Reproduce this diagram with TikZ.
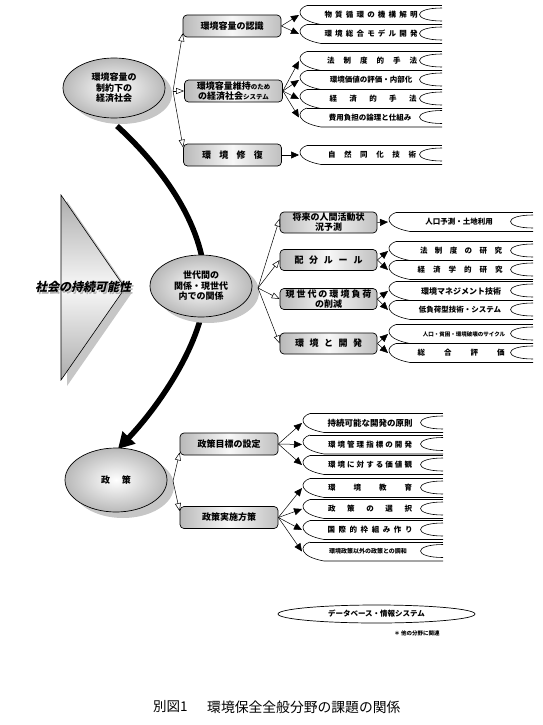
\documentclass[tikz,border=0pt]{standalone}
\usepackage{fontspec}
\newfontfamily\jp{Noto Sans CJK JP}
\newfontfamily\jpsl[FakeSlant=0.22]{Noto Sans CJK JP}
\usetikzlibrary{arrows.meta,shapes.geometric,calc,shadows}
\newcommand\spr[2]{\makebox[#1pt][s]{#2}}
\newcommand\fs[1]{\fontsize{#1}{#1}\selectfont}
\tikzset{
  oval/.style={ellipse, draw=black, line width=0.7pt, inner sep=0pt, shading=radial,
    inner color=white, outer color=gray!55, align=center,
    drop shadow={shadow xshift=7pt, shadow yshift=-6pt, fill=gray!45, opacity=1},
    font=\jp\bfseries\fontsize{9}{10.5}\selectfont},
  tbox/.style={draw=black, line width=0.7pt, rounded corners=4pt, left color=gray!55,
    right color=gray!50, middle color=gray!6, minimum width=98pt, minimum height=22pt,
    inner sep=1pt, align=center, font=\jp\bfseries\fontsize{9}{10}\selectfont},
  ribtext/.style={inner sep=0pt, font=\jp\bfseries\fs{7.5}},
  ribline/.style={line width=0.6pt},
  openarr/.style={line width=0.5pt, -{Triangle[open,length=8pt,width=6pt]}},
  fillarr/.style={line width=0.5pt, -{Triangle[length=8pt,width=7pt]}},
  bigarc/.style={line width=5.5pt, -{Triangle[length=16pt,width=17pt]}},
}
\newcommand\rib[6]{%
  \coordinate (#1) at (#2,#4);
  \draw[ribline] ({#2+8},{#4-9.5}) -- (#3,{#4-9.5});
  \draw[ribline] ({#2+8},{#4-9.5}) .. controls ({#2-3},{#4-6}) and ({#2-3},{#4+5}) .. ({#2+22},{#4+9.5}) -- (#3,{#4+9.5});
  \draw[ribline] (#3,{#4-7}) .. controls ({#3-30},{#4-7}) and ({#3-30},{#4+6}) .. (#3,{#4+6});
  \node[ribtext] (#1t) at (#5,#4) {#6};
}
\begin{document}
\begin{tikzpicture}[x=1pt,y=-1pt]
\useasboundingbox (0,0) rectangle (543,725);

% big triangle: sustainability of society
\fill[gray!45] (67,201) -- (131,294) -- (67,386) -- cycle;
\path[draw=black, line width=0.6pt, top color=gray!65, bottom color=gray!65, middle color=gray!6]
  (61,195) -- (125,288) -- (61,380) -- cycle;
\node[font=\jpsl\bfseries\fs{12}] (slogan) at (83,288)
  {\makebox[0pt][l]{\hspace{1.8pt}\raisebox{-1.8pt}{\color{gray!60}社会の持続可能性}}社会の持続可能性};

% thick arc
\coordinate (arcS) at (117,126);
\coordinate (arcM) at (205,290);
\coordinate (arcE) at (118,449);
\draw[bigarc] (arcS) .. controls (165,170) and (207,230) .. (arcM)
  .. controls (204,340) and (160,405) .. (arcE);

% ellipses
\node[oval, minimum width=102pt, minimum height=60pt] (e1) at (114,88) {環境容量の\\制約下の\\経済社会};
\node[oval, minimum width=102pt, minimum height=62pt] (e2) at (201,286) {世代間の\\関係・現世代\\内での関係};
\node[oval, minimum width=102pt, minimum height=64pt] (e3) at (116,480) {\spr{30}{政 策}};

% boxes top
\node[tbox] (box1) at (232,26) {環境容量の認識};
\node[tbox] (box2) at (233.5,91) {環境容量維持{\fs{6.5}のため}\\の経済社会{\fs{6.5}システム}};
\node[tbox] (box3) at (232.5,155) {\spr{61}{環 境 修 復}};
% boxes middle
\node[tbox, minimum width=97pt, minimum height=21pt] (m1) at (328.5,222.5) {将来の人間活動状\\況予測};
\node[tbox, minimum width=97pt, minimum height=21pt] (m2) at (328.5,260) {\spr{68}{配 分 ル ー ル}};
\node[tbox, minimum width=97pt, minimum height=21pt] (m3) at (328.5,299) {\spr{86}{現 世 代 の 環 境 負 荷}\\の削減};
\node[tbox, minimum width=97pt, minimum height=21pt] (m4) at (328.5,343.5) {\spr{67}{環 境 と 開 発}};
% boxes bottom
\node[tbox] (p1) at (229,444) {政策目標の設定};
\node[tbox] (p2) at (229,517.5) {政策実施方策};

% ribbons top
\rib{a1}{299}{442}{15}{371}{\spr{93}{物 質 循 環 の 機 構 解 明}}
\rib{a2}{299}{442}{34}{371}{\spr{93}{環 境 総 合 モ デ ル 開 発}}
\rib{b1}{299}{442}{61}{372}{\spr{90}{法 制 度 的 手 法}}
\rib{b2}{299}{442}{80}{371}{環境価値の評価・内部化}
\rib{b3}{299}{442}{99}{373}{\spr{87}{経 済 的 手 法}}
\rib{b4}{299}{442}{117.5}{370}{費用負担の論理と仕組み}
\rib{c1}{299}{442}{155}{372}{\spr{88}{自 然 同 化 技 術}}
% ribbons middle
\rib{n1}{388}{533}{222}{459}{人口予測・土地利用}
\rib{n2}{388}{533}{251}{461}{\spr{82}{法 制 度 の 研 究}}
\rib{n3}{388}{533}{270}{460}{\spr{85}{経 済 学 的 研 究}}
\rib{n4}{388}{533}{291}{461}{{\fs{8}環境マネジメント技術}}
\rib{n5}{388}{533}{310}{460}{低負荷型技術・システム}
\rib{n6}{388}{533}{334}{464}{{\fs{5.5}人口・貧困・環境破壊のサイクル}}
\rib{n7}{388}{533}{353}{461}{\spr{87}{総 合 評 価}}
% ribbons bottom
\rib{q1}{302}{443}{423}{370}{{\fs{8.5}持続可能な開発の原則}}
\rib{q2}{302}{443}{444.5}{370}{\spr{84}{環 境 管 理 指 標 の 開 発}}
\rib{q3}{302}{443}{465}{370}{\spr{84}{環 境 に 対 す る 価 値 観}}
\rib{q4}{302}{443}{488}{370}{\spr{84}{環 境 教 育}}
\rib{q5}{302}{443}{509}{370}{\spr{84}{政 策 の 選 択}}
\rib{q6}{302}{443}{530}{370}{\spr{85}{国 際 的 枠 組 み 作 り}}
\rib{q7}{302}{443}{551.5}{368}{{\fs{6}環境政策以外の政策との調和}}

% connectors ellipse -> boxes
\coordinate (f1) at (173,91);
\draw[openarr] (f1) -- ($(box1.south west)+(0,-4)$);
\draw[openarr] (f1) -- (box2.west);
\draw[openarr] (f1) -- ($(box3.north west)+(0,4)$);
\coordinate (f2) at (258,288);
\draw[openarr] (f2) -- ($(m1.west)+(0,-4)$);
\draw[openarr] (f2) -- (m2.west);
\draw[openarr] (f2) -- (m3.west);
\draw[openarr] (f2) -- (m4.west);
\coordinate (f3) at (173,481);
\draw[openarr] (f3) -- ($(p1.south west)+(0,-3)$);
\draw[openarr] (f3) -- ($(p2.north west)+(0,5)$);

% connectors boxes -> ribbons
\foreach \t in {a1,a2} \draw[fillarr] (box1.east) -- (\t);
\foreach \t in {b1,b2,b3,b4} \draw[fillarr] (box2.east) -- (\t);
\draw[fillarr] (box3.east) -- (c1);
\draw[fillarr] (m1.east) -- (n1);
\foreach \t in {n2,n3} \draw[fillarr] (m2.east) -- (\t);
\foreach \t in {n4,n5} \draw[fillarr] (m3.east) -- (\t);
\foreach \t in {n6,n7} \draw[fillarr] (m4.east) -- (\t);
\foreach \t in {q1,q2,q3} \draw[fillarr] (p1.east) -- (\t);
\foreach \t in {q4,q5,q6,q7} \draw[fillarr] (p2.east) -- (\t);

% database
\node[ellipse, draw=black, line width=0.7pt, minimum width=197pt, minimum height=18pt, inner sep=0pt,
  font=\jp\bfseries\fs{7.5}] (db) at (376.5,614) {データベース・情報システム};
\node[font=\jp\bfseries\fs{5.5}, inner sep=0pt] (note) at (417,633) {＊ 他の分野に関連};

% caption
\node[font=\jp\fs{13.5}, inner sep=0pt, anchor=west] (cap1) at (153,707) {別図1};
\node[font=\jp\fs{13.8}, inner sep=0pt, anchor=west] (cap2) at (207,707) {環境保全全般分野の課題の関係};
\end{tikzpicture}
\end{document}
